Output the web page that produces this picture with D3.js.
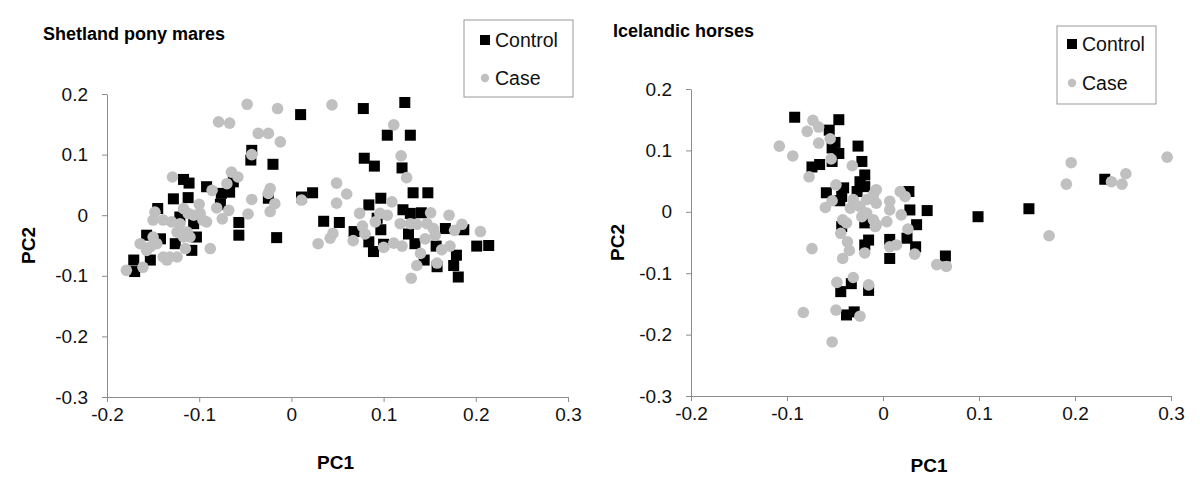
<!DOCTYPE html>
<html>
<head>
<meta charset="utf-8">
<script src="https://cdn.jsdelivr.net/npm/d3@7"></script>
<style>
  body { margin: 0; background: #fff; }
  svg { font-family: "Liberation Sans", Arial, sans-serif; }
</style>
</head>
<body>
<svg id="chart" width="1200" height="500"></svg>
<script>
// tick values shared by both panels
const xTicks = [-0.2, -0.1, 0, 0.1, 0.2, 0.3];
const yTicks = [-0.3, -0.2, -0.1, 0, 0.1, 0.2];
const seriesNames = ["Control", "Case"];

// Shetland pony mares [PC1, PC2]
const shetlandControl = [
  [-0.043,0.107],[-0.044,0.091],[-0.020,0.084],[-0.117,0.059],[-0.111,0.053],[-0.092,0.047],[-0.076,0.036],
  [-0.067,0.038],[-0.063,0.055],[-0.128,0.027],[-0.112,0.029],[-0.077,0.018],[-0.057,-0.012],[-0.057,-0.033],
  [-0.016,-0.037],[-0.025,0.028],[-0.145,0.011],[-0.121,-0.003],[-0.106,-0.014],[-0.157,-0.033],[-0.142,-0.039],
  [-0.103,-0.036],[-0.126,-0.047],[-0.108,-0.058],[-0.153,-0.074],[-0.171,-0.074],[-0.170,-0.093],
  [0.010,0.166],[0.078,0.176],[0.123,0.186],[0.104,0.132],[0.129,0.132],[0.079,0.094],[0.090,0.081],[0.120,0.078],
  [0.011,0.030],[0.023,0.037],[0.035,-0.010],[0.052,-0.012],[0.068,-0.027],[0.084,0.017],[0.097,0.028],
  [0.093,-0.005],[0.097,-0.024],[0.084,-0.044],[0.089,-0.060],[0.100,-0.048],[0.121,0.009],[0.129,0.003],
  [0.132,0.037],[0.148,0.037],[0.141,0.004],[0.127,-0.031],[0.134,-0.047],[0.167,-0.022],[0.157,-0.051],
  [0.187,-0.024],[0.201,-0.051],[0.214,-0.050],[0.144,-0.074],[0.158,-0.085],[0.179,-0.066],[0.176,-0.083],
  [0.181,-0.102]
];
const shetlandCase = [
  [-0.048,0.183],[-0.079,0.154],[-0.067,0.152],[-0.015,0.176],[-0.036,0.135],[-0.025,0.135],[-0.012,0.121],
  [-0.043,0.100],[-0.129,0.063],[-0.086,0.041],[-0.065,0.071],[-0.058,0.063],[-0.070,0.052],[-0.100,0.018],
  [-0.081,0.012],[-0.068,0.008],[-0.043,0.026],[-0.047,0.002],[-0.075,-0.006],[-0.023,0.044],[-0.025,0.036],
  [-0.023,0.006],[-0.018,0.019],[-0.148,0.005],[-0.150,-0.008],[-0.139,-0.008],[-0.130,-0.011],[-0.121,-0.014],
  [-0.117,0.011],[-0.112,0.003],[-0.106,0.000],[-0.099,0.003],[-0.096,-0.008],[-0.092,-0.011],[-0.124,-0.028],
  [-0.113,-0.028],[-0.117,-0.036],[-0.110,-0.036],[-0.150,-0.036],[-0.146,-0.047],[-0.164,-0.047],[-0.153,-0.052],
  [-0.157,-0.058],[-0.139,-0.069],[-0.132,-0.069],[-0.124,-0.069],[-0.135,-0.074],[-0.115,-0.055],[-0.088,-0.055],
  [-0.179,-0.091],[-0.161,-0.086],
  [0.044,0.182],[0.111,0.149],[0.119,0.098],[0.125,0.062],[0.011,0.025],[0.049,0.053],[0.060,0.035],[0.049,0.020],
  [0.029,-0.047],[0.042,-0.038],[0.045,-0.030],[0.067,-0.042],[0.074,0.003],[0.077,-0.018],[0.096,0.003],
  [0.104,0.000],[0.091,-0.011],[0.080,-0.031],[0.100,-0.053],[0.109,0.022],[0.118,-0.014],[0.129,-0.014],
  [0.136,-0.015],[0.151,0.004],[0.111,-0.046],[0.120,-0.051],[0.147,-0.014],[0.154,-0.022],[0.156,-0.033],
  [0.145,-0.039],[0.163,-0.057],[0.172,-0.051],[0.171,0.000],[0.177,-0.025],[0.185,-0.015],[0.205,-0.027],
  [0.140,-0.063],[0.158,-0.079],[0.136,-0.083],[0.130,-0.104]
];

// Icelandic horses [PC1, PC2]
const icelandicControl = [
  [-0.092,0.154],[-0.046,0.150],[-0.056,0.133],[-0.050,0.113],[-0.053,0.104],[-0.046,0.095],[-0.026,0.107],
  [-0.074,0.073],[-0.066,0.077],[-0.053,0.082],[-0.022,0.082],[-0.019,0.060],[-0.024,0.049],[-0.041,0.039],
  [-0.059,0.031],[-0.043,0.025],[-0.045,0.018],[-0.027,0.033],[-0.019,0.041],[-0.043,-0.024],[-0.019,-0.018],
  [-0.015,-0.046],[-0.019,-0.054],[-0.044,-0.130],[-0.033,-0.117],[-0.015,-0.128],[-0.038,-0.168],[-0.030,-0.163],
  [0.099,-0.008],[0.152,0.005],[0.231,0.053],[0.065,-0.072],[0.046,0.002],[0.027,0.033],[0.028,0.003],
  [0.035,-0.021],[0.034,-0.057],[0.025,-0.043],[0.007,-0.045],[0.007,-0.076]
];
const icelandicCase = [
  [-0.073,0.149],[-0.067,0.138],[-0.079,0.131],[-0.055,0.119],[-0.108,0.107],[-0.094,0.091],[-0.067,0.112],
  [-0.054,0.086],[-0.032,0.075],[-0.077,0.057],[-0.049,0.044],[-0.053,0.018],[-0.060,0.007],[-0.031,0.020],
  [-0.024,0.009],[-0.017,0.020],[-0.010,0.028],[-0.007,0.014],[-0.017,-0.002],[-0.010,-0.013],[-0.022,-0.008],
  [-0.034,0.006],[-0.007,0.036],[-0.042,-0.013],[-0.038,-0.018],[-0.044,-0.035],[-0.007,-0.021],[-0.037,-0.049],
  [-0.035,-0.063],[-0.019,-0.067],[-0.042,-0.076],[-0.074,-0.060],[-0.048,-0.115],[-0.031,-0.107],[-0.015,-0.119],
  [-0.083,-0.164],[-0.049,-0.160],[-0.024,-0.170],[-0.053,-0.212],
  [0.173,-0.039],[0.196,0.080],[0.191,0.045],[0.238,0.049],[0.249,0.045],[0.253,0.062],[0.296,0.089],
  [0.056,-0.086],[0.066,-0.089],[0.018,0.033],[0.023,0.025],[0.007,0.017],[0.007,0.003],[0.019,-0.005],
  [-0.010,0.020],[0.004,-0.016],[-0.008,-0.024],[0.026,-0.028],[0.014,-0.054],[0.007,-0.057],[0.033,-0.069]
];

const svg = d3.select("#chart");
const axisColor = "#8c8c8c";
const caseColor = "#c0c0c0";
const fmt = d => d === 0 ? "0" : d.toFixed(1);

function drawPanel(cfg) {
  const g = svg.append("g");
  const x = d3.scaleLinear().domain([-0.2, 0.3]).range([cfg.left, cfg.right]);
  const y = d3.scaleLinear().domain([-0.3, 0.2]).range([cfg.bottom, cfg.top]);

  // axes
  const xAxis = g.append("g")
    .attr("transform", `translate(0,${cfg.bottom})`)
    .call(d3.axisBottom(x).tickValues(xTicks).tickFormat(fmt).tickSize(5).tickSizeOuter(0).tickPadding(6));
  const yAxis = g.append("g")
    .attr("transform", `translate(${cfg.left},0)`)
    .call(d3.axisLeft(y).tickValues(yTicks).tickFormat(fmt).tickSize(5).tickSizeOuter(0).tickPadding(14));
  [xAxis, yAxis].forEach(a => {
    a.select(".domain").attr("stroke", axisColor);
    a.selectAll(".tick line").attr("stroke", axisColor);
    a.selectAll(".tick text").attr("fill", "#111").style("font-size", "19px");
  });

  // control squares first, case circles on top
  const s = 11;
  g.append("g").selectAll("rect")
    .data(cfg.control)
    .join("rect")
    .attr("x", d => x(d[0]) - s / 2)
    .attr("y", d => y(d[1]) - s / 2)
    .attr("width", s)
    .attr("height", s)
    .attr("fill", "#000");

  g.append("g").selectAll("circle")
    .data(cfg.cases)
    .join("circle")
    .attr("cx", d => x(d[0]))
    .attr("cy", d => y(d[1]))
    .attr("r", 5.8)
    .attr("fill", caseColor);

  // titles
  g.append("text")
    .attr("x", cfg.titleX).attr("y", cfg.titleY)
    .style("font-size", "18px").style("font-weight", "bold")
    .text(cfg.title);

  g.append("text")
    .attr("x", (cfg.left + cfg.right) / 2 - 2).attr("y", cfg.pc1Y)
    .attr("text-anchor", "middle")
    .style("font-size", "19px").style("font-weight", "bold")
    .text("PC1");

  g.append("text")
    .attr("transform", `translate(${cfg.pc2X},${(cfg.top + cfg.bottom) / 2}) rotate(-90)`)
    .attr("text-anchor", "middle")
    .style("font-size", "19px").style("font-weight", "bold")
    .text("PC2");

  // legend
  const lg = g.append("g").attr("transform", `translate(${cfg.legend.x},${cfg.legend.y})`);
  lg.append("rect")
    .attr("width", cfg.legend.w).attr("height", cfg.legend.h)
    .attr("fill", "#fff").attr("stroke", "#999");
  seriesNames.forEach((name, i) => {
    const cy = cfg.legend.rows[i];
    if (i === 0) {
      lg.append("rect").attr("x", cfg.legend.mx - 5).attr("y", cy - 5)
        .attr("width", 10).attr("height", 10).attr("fill", "#000");
    } else {
      lg.append("circle").attr("cx", cfg.legend.mx).attr("cy", cy)
        .attr("r", 4.2).attr("fill", caseColor);
    }
    lg.append("text")
      .attr("x", cfg.legend.tx).attr("y", cy + 7)
      .style("font-size", "19.5px").attr("fill", "#111")
      .text(name);
  });
}

drawPanel({
  title: "Shetland pony mares", titleX: 43, titleY: 40,
  left: 107, right: 568, top: 94, bottom: 397,
  pc1Y: 469, pc2X: 35,
  control: shetlandControl, cases: shetlandCase,
  legend: { x: 464, y: 20, w: 109, h: 77, mx: 21, tx: 31, rows: [20, 58] }
});

drawPanel({
  title: "Icelandic horses", titleX: 613, titleY: 37,
  left: 691, right: 1171, top: 89, bottom: 396,
  pc1Y: 472, pc2X: 624,
  control: icelandicControl, cases: icelandicCase,
  legend: { x: 1057, y: 26, w: 99, h: 78, mx: 15, tx: 25, rows: [18, 57] }
});
</script>
</body>
</html>
